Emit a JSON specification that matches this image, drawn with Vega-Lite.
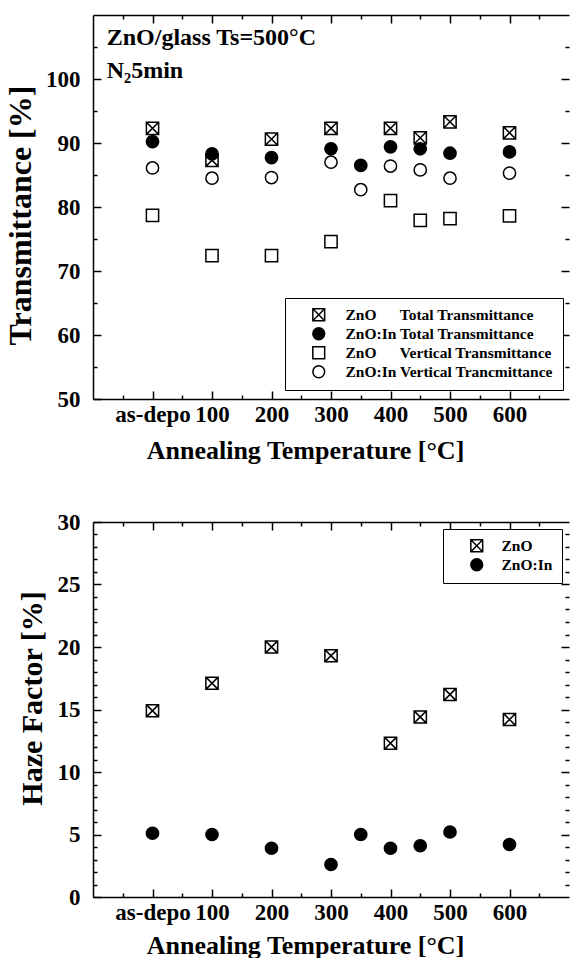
{
  "$schema": "https://vega.github.io/schema/vega-lite/v6.json",
  "padding": {"left": 4, "top": 14, "right": 0, "bottom": 0},
  "background": "white",
  "bounds": "flush",
  "spacing": 123,
  "resolve": {
    "scale": {"shape": "independent", "fill": "independent", "stroke": "independent"},
    "legend": {"shape": "independent", "fill": "independent", "stroke": "independent"}
  },
  "config": {
    "view": {"stroke": null},
    "font": "Liberation Serif",
    "axis": {
      "grid": false,
      "labelFont": "Liberation Serif",
      "labelFontWeight": "bold",
      "labelFontSize": 23,
      "labelColor": "black",
      "labelFlush": false,
      "labelOverlap": false,
      "titleFont": "Liberation Serif",
      "titleFontWeight": "bold",
      "titleColor": "black",
      "tickColor": "black",
      "tickWidth": 1.5,
      "domainColor": "black",
      "domainWidth": 1.5
    },
    "legend": {
      "orient": "none",
      "title": null,
      "strokeColor": "black",
      "fillColor": "white",
      "padding": 9,
      "labelFont": "Liberation Serif",
      "labelFontWeight": "bold",
      "labelFontSize": 15.5,
      "labelColor": "black",
      "labelLimit": 0,
      "symbolSize": 140,
      "symbolStrokeWidth": 1.5,
      "rowPadding": 0
    }
  },
  "vconcat": [
    {
      "width": 476,
      "height": 384,
      "data": {
        "values": [
          {"temp": 0, "value": 92.3, "series": "ZnO\u00a0\u00a0\u00a0\u00a0\u00a0\u00a0Total Transmittance"},
          {"temp": 100, "value": 87.3, "series": "ZnO\u00a0\u00a0\u00a0\u00a0\u00a0\u00a0Total Transmittance"},
          {"temp": 200, "value": 90.6, "series": "ZnO\u00a0\u00a0\u00a0\u00a0\u00a0\u00a0Total Transmittance"},
          {"temp": 300, "value": 92.3, "series": "ZnO\u00a0\u00a0\u00a0\u00a0\u00a0\u00a0Total Transmittance"},
          {"temp": 400, "value": 92.3, "series": "ZnO\u00a0\u00a0\u00a0\u00a0\u00a0\u00a0Total Transmittance"},
          {"temp": 450, "value": 90.8, "series": "ZnO\u00a0\u00a0\u00a0\u00a0\u00a0\u00a0Total Transmittance"},
          {"temp": 500, "value": 93.3, "series": "ZnO\u00a0\u00a0\u00a0\u00a0\u00a0\u00a0Total Transmittance"},
          {"temp": 600, "value": 91.6, "series": "ZnO\u00a0\u00a0\u00a0\u00a0\u00a0\u00a0Total Transmittance"},
          {"temp": 0, "value": 78.7, "series": "ZnO\u00a0\u00a0\u00a0\u00a0\u00a0\u00a0Vertical Transmittance"},
          {"temp": 100, "value": 72.4, "series": "ZnO\u00a0\u00a0\u00a0\u00a0\u00a0\u00a0Vertical Transmittance"},
          {"temp": 200, "value": 72.4, "series": "ZnO\u00a0\u00a0\u00a0\u00a0\u00a0\u00a0Vertical Transmittance"},
          {"temp": 300, "value": 74.6, "series": "ZnO\u00a0\u00a0\u00a0\u00a0\u00a0\u00a0Vertical Transmittance"},
          {"temp": 400, "value": 81.0, "series": "ZnO\u00a0\u00a0\u00a0\u00a0\u00a0\u00a0Vertical Transmittance"},
          {"temp": 450, "value": 77.9, "series": "ZnO\u00a0\u00a0\u00a0\u00a0\u00a0\u00a0Vertical Transmittance"},
          {"temp": 500, "value": 78.2, "series": "ZnO\u00a0\u00a0\u00a0\u00a0\u00a0\u00a0Vertical Transmittance"},
          {"temp": 600, "value": 78.6, "series": "ZnO\u00a0\u00a0\u00a0\u00a0\u00a0\u00a0Vertical Transmittance"},
          {"temp": 0, "value": 86.1, "series": "ZnO:In Vertical Trancmittance"},
          {"temp": 100, "value": 84.5, "series": "ZnO:In Vertical Trancmittance"},
          {"temp": 200, "value": 84.6, "series": "ZnO:In Vertical Trancmittance"},
          {"temp": 300, "value": 87.0, "series": "ZnO:In Vertical Trancmittance"},
          {"temp": 350, "value": 82.7, "series": "ZnO:In Vertical Trancmittance"},
          {"temp": 400, "value": 86.4, "series": "ZnO:In Vertical Trancmittance"},
          {"temp": 450, "value": 85.8, "series": "ZnO:In Vertical Trancmittance"},
          {"temp": 500, "value": 84.5, "series": "ZnO:In Vertical Trancmittance"},
          {"temp": 600, "value": 85.3, "series": "ZnO:In Vertical Trancmittance"},
          {"temp": 0, "value": 90.2, "series": "ZnO:In Total Transmittance"},
          {"temp": 100, "value": 88.3, "series": "ZnO:In Total Transmittance"},
          {"temp": 200, "value": 87.7, "series": "ZnO:In Total Transmittance"},
          {"temp": 300, "value": 89.1, "series": "ZnO:In Total Transmittance"},
          {"temp": 350, "value": 86.5, "series": "ZnO:In Total Transmittance"},
          {"temp": 400, "value": 89.4, "series": "ZnO:In Total Transmittance"},
          {"temp": 450, "value": 89.1, "series": "ZnO:In Total Transmittance"},
          {"temp": 500, "value": 88.4, "series": "ZnO:In Total Transmittance"},
          {"temp": 600, "value": 88.6, "series": "ZnO:In Total Transmittance"}
        ]
      },
      "resolve": {"axis": {"x": "independent", "y": "independent"}},
      "layer": [
        {
          "mark": {"type": "point", "filled": true, "strokeWidth": 1.5, "opacity": 1, "size": 150},
          "encoding": {
            "x": {
              "field": "temp", "type": "quantitative",
              "scale": {"domain": [-100, 700], "nice": false, "zero": false},
              "axis": {
                "orient": "bottom",
                "values": [0, 100, 200, 300, 400, 500, 600],
                "format": "d",
                "labelExpr": "datum.value === 0 ? 'as-depo' : datum.label",
                "tickSize": -8,
                "labelPadding": 12,
                "title": "Annealing Temperature [°C]",
                "titleFontSize": 26,
                "titlePadding": 11,
                "titleX": 212
              }
            },
            "y": {
              "field": "value", "type": "quantitative",
              "scale": {"domain": [50, 110], "nice": false, "zero": false},
              "axis": {
                "orient": "left",
                "values": [50, 60, 70, 80, 90, 100],
                "tickSize": -8,
                "labelPadding": 21,
                "title": "Transmittance [%]",
                "titleFontSize": 32,
                "titlePadding": 8,
                "titleY": 200
              }
            },
            "shape": {
              "field": "series", "type": "nominal",
              "scale": {
                "domain": [
                  "ZnO\u00a0\u00a0\u00a0\u00a0\u00a0\u00a0Total Transmittance",
                  "ZnO:In Total Transmittance",
                  "ZnO\u00a0\u00a0\u00a0\u00a0\u00a0\u00a0Vertical Transmittance",
                  "ZnO:In Vertical Trancmittance"
                ],
                "range": ["M-1,-1H1V1H-1Z M-1,-1L1,1 M-1,1L1,-1", "circle", "square", "circle"]
              },
              "legend": {"legendX": 192, "legendY": 283, "symbolOffset": 17, "labelOffset": 19}
            },
            "fill": {
              "field": "series", "type": "nominal",
              "scale": {
                "domain": [
                  "ZnO\u00a0\u00a0\u00a0\u00a0\u00a0\u00a0Total Transmittance",
                  "ZnO:In Total Transmittance",
                  "ZnO\u00a0\u00a0\u00a0\u00a0\u00a0\u00a0Vertical Transmittance",
                  "ZnO:In Vertical Trancmittance"
                ],
                "range": ["white", "black", "white", "white"]
              },
              "legend": {"legendX": 192, "legendY": 283, "symbolOffset": 17, "labelOffset": 19}
            },
            "stroke": {
              "field": "series", "type": "nominal",
              "scale": {
                "domain": [
                  "ZnO\u00a0\u00a0\u00a0\u00a0\u00a0\u00a0Total Transmittance",
                  "ZnO:In Total Transmittance",
                  "ZnO\u00a0\u00a0\u00a0\u00a0\u00a0\u00a0Vertical Transmittance",
                  "ZnO:In Vertical Trancmittance"
                ],
                "range": ["black", "black", "black", "black"]
              },
              "legend": {"legendX": 192, "legendY": 283, "symbolOffset": 17, "labelOffset": 19}
            }
          }
        },
        {
          "mark": {"type": "point", "opacity": 0},
          "encoding": {
            "x": {
              "field": "temp", "type": "quantitative",
              "scale": {"domain": [-100, 700], "nice": false, "zero": false},
              "axis": {"orient": "bottom", "values": [-50, 50, 150, 250, 350, 450, 550, 650], "tickSize": -4, "labels": false, "domain": false, "title": null}
            },
            "y": {
              "field": "value", "type": "quantitative",
              "scale": {"domain": [50, 110], "nice": false, "zero": false},
              "axis": {"orient": "left", "values": [55, 65, 75, 85, 95, 105], "tickSize": -4, "labels": false, "domain": false, "title": null}
            }
          }
        },
        {
          "mark": {"type": "point", "opacity": 0},
          "encoding": {
            "x": {
              "field": "temp", "type": "quantitative",
              "scale": {"domain": [-100, 700], "nice": false, "zero": false},
              "axis": {"orient": "top", "values": [0, 100, 200, 300, 400, 500, 600], "tickSize": -8, "labels": false, "domain": true, "title": null}
            },
            "y": {
              "field": "value", "type": "quantitative",
              "scale": {"domain": [50, 110], "nice": false, "zero": false},
              "axis": {"orient": "right", "values": [60, 70, 80, 90, 100], "tickSize": -8, "labels": false, "domain": false, "title": null}
            }
          }
        },
        {
          "mark": {"type": "point", "opacity": 0},
          "encoding": {
            "x": {
              "field": "temp", "type": "quantitative",
              "scale": {"domain": [-100, 700], "nice": false, "zero": false},
              "axis": {"orient": "top", "values": [-50, 50, 150, 250, 350, 450, 550, 650], "tickSize": -4, "labels": false, "domain": false, "title": null}
            },
            "y": {
              "field": "value", "type": "quantitative",
              "scale": {"domain": [50, 110], "nice": false, "zero": false},
              "axis": {"orient": "right", "values": [55, 65, 75, 85, 95, 105], "tickSize": -4, "labels": false, "domain": false, "title": null}
            }
          }
        },
        {
          "data": {
            "values": [
              {"note": "ZnO/glass Ts=500°C", "temp": -77, "value": 106.4},
              {"note": "N₂5min", "temp": -77, "value": 101.3}
            ]
          },
          "mark": {"type": "text", "align": "left", "baseline": "middle", "font": "Liberation Serif", "fontWeight": "bold", "fontSize": 24, "color": "black"},
          "encoding": {
            "x": {"field": "temp", "type": "quantitative", "scale": {"domain": [-100, 700], "nice": false, "zero": false}, "axis": null},
            "y": {"field": "value", "type": "quantitative", "scale": {"domain": [50, 110], "nice": false, "zero": false}, "axis": null},
            "text": {"field": "note"}
          }
        }
      ]
    },
    {
      "width": 476,
      "height": 375,
      "data": {
        "values": [
          {"temp": 0, "value": 14.9, "series": "ZnO"},
          {"temp": 100, "value": 17.1, "series": "ZnO"},
          {"temp": 200, "value": 20.0, "series": "ZnO"},
          {"temp": 300, "value": 19.3, "series": "ZnO"},
          {"temp": 400, "value": 12.3, "series": "ZnO"},
          {"temp": 450, "value": 14.4, "series": "ZnO"},
          {"temp": 500, "value": 16.2, "series": "ZnO"},
          {"temp": 600, "value": 14.2, "series": "ZnO"},
          {"temp": 0, "value": 5.1, "series": "ZnO:In"},
          {"temp": 100, "value": 5.0, "series": "ZnO:In"},
          {"temp": 200, "value": 3.9, "series": "ZnO:In"},
          {"temp": 300, "value": 2.6, "series": "ZnO:In"},
          {"temp": 350, "value": 5.0, "series": "ZnO:In"},
          {"temp": 400, "value": 3.9, "series": "ZnO:In"},
          {"temp": 450, "value": 4.1, "series": "ZnO:In"},
          {"temp": 500, "value": 5.2, "series": "ZnO:In"},
          {"temp": 600, "value": 4.2, "series": "ZnO:In"}
        ]
      },
      "resolve": {"axis": {"x": "independent", "y": "independent"}},
      "layer": [
        {
          "mark": {"type": "point", "filled": true, "strokeWidth": 1.5, "opacity": 1, "size": 150},
          "encoding": {
            "x": {
              "field": "temp", "type": "quantitative",
              "scale": {"domain": [-100, 700], "nice": false, "zero": false},
              "axis": {
                "orient": "bottom",
                "values": [0, 100, 200, 300, 400, 500, 600],
                "format": "d",
                "labelExpr": "datum.value === 0 ? 'as-depo' : datum.label",
                "tickSize": -8,
                "labelPadding": 12,
                "title": "Annealing Temperature [°C]",
                "titleFontSize": 26,
                "titlePadding": 8,
                "titleX": 212
              }
            },
            "y": {
              "field": "value", "type": "quantitative",
              "scale": {"domain": [0, 30], "nice": false, "zero": false},
              "axis": {
                "orient": "left",
                "values": [0, 5, 10, 15, 20, 25, 30],
                "tickSize": -8,
                "labelPadding": 21,
                "title": "Haze Factor [%]",
                "titleFontSize": 30,
                "titlePadding": 10,
                "titleY": 176
              }
            },
            "shape": {
              "field": "series", "type": "nominal",
              "scale": {"domain": ["ZnO", "ZnO:In"], "range": ["M-1,-1H1V1H-1Z M-1,-1L1,1 M-1,1L1,-1", "circle"]},
              "legend": {"legendX": 350, "legendY": 7, "symbolOffset": 17, "labelOffset": 17}
            },
            "fill": {
              "field": "series", "type": "nominal",
              "scale": {"domain": ["ZnO", "ZnO:In"], "range": ["white", "black"]},
              "legend": {"legendX": 350, "legendY": 7, "symbolOffset": 17, "labelOffset": 17}
            },
            "stroke": {
              "field": "series", "type": "nominal",
              "scale": {"domain": ["ZnO", "ZnO:In"], "range": ["black", "black"]},
              "legend": {"legendX": 350, "legendY": 7, "symbolOffset": 17, "labelOffset": 17}
            }
          }
        },
        {
          "mark": {"type": "point", "opacity": 0},
          "encoding": {
            "x": {
              "field": "temp", "type": "quantitative",
              "scale": {"domain": [-100, 700], "nice": false, "zero": false},
              "axis": {"orient": "bottom", "values": [-50, 50, 150, 250, 350, 450, 550, 650], "tickSize": -4, "labels": false, "domain": false, "title": null}
            },
            "y": {
              "field": "value", "type": "quantitative",
              "scale": {"domain": [0, 30], "nice": false, "zero": false},
              "axis": {"orient": "left", "values": [1, 2, 3, 4, 6, 7, 8, 9, 11, 12, 13, 14, 16, 17, 18, 19, 21, 22, 23, 24, 26, 27, 28, 29], "tickSize": -4, "labels": false, "domain": false, "title": null}
            }
          }
        },
        {
          "mark": {"type": "point", "opacity": 0},
          "encoding": {
            "x": {
              "field": "temp", "type": "quantitative",
              "scale": {"domain": [-100, 700], "nice": false, "zero": false},
              "axis": {"orient": "top", "values": [0, 100, 200, 300, 400, 500, 600], "tickSize": -8, "labels": false, "domain": true, "title": null}
            },
            "y": {
              "field": "value", "type": "quantitative",
              "scale": {"domain": [0, 30], "nice": false, "zero": false},
              "axis": {"orient": "right", "values": [5, 10, 15, 20, 25], "tickSize": -8, "labels": false, "domain": false, "title": null}
            }
          }
        },
        {
          "mark": {"type": "point", "opacity": 0},
          "encoding": {
            "x": {
              "field": "temp", "type": "quantitative",
              "scale": {"domain": [-100, 700], "nice": false, "zero": false},
              "axis": {"orient": "top", "values": [-50, 50, 150, 250, 350, 450, 550, 650], "tickSize": -4, "labels": false, "domain": false, "title": null}
            },
            "y": {
              "field": "value", "type": "quantitative",
              "scale": {"domain": [0, 30], "nice": false, "zero": false},
              "axis": {"orient": "right", "values": [1, 2, 3, 4, 6, 7, 8, 9, 11, 12, 13, 14, 16, 17, 18, 19, 21, 22, 23, 24, 26, 27, 28, 29], "tickSize": -4, "labels": false, "domain": false, "title": null}
            }
          }
        }
      ]
    }
  ]
}
